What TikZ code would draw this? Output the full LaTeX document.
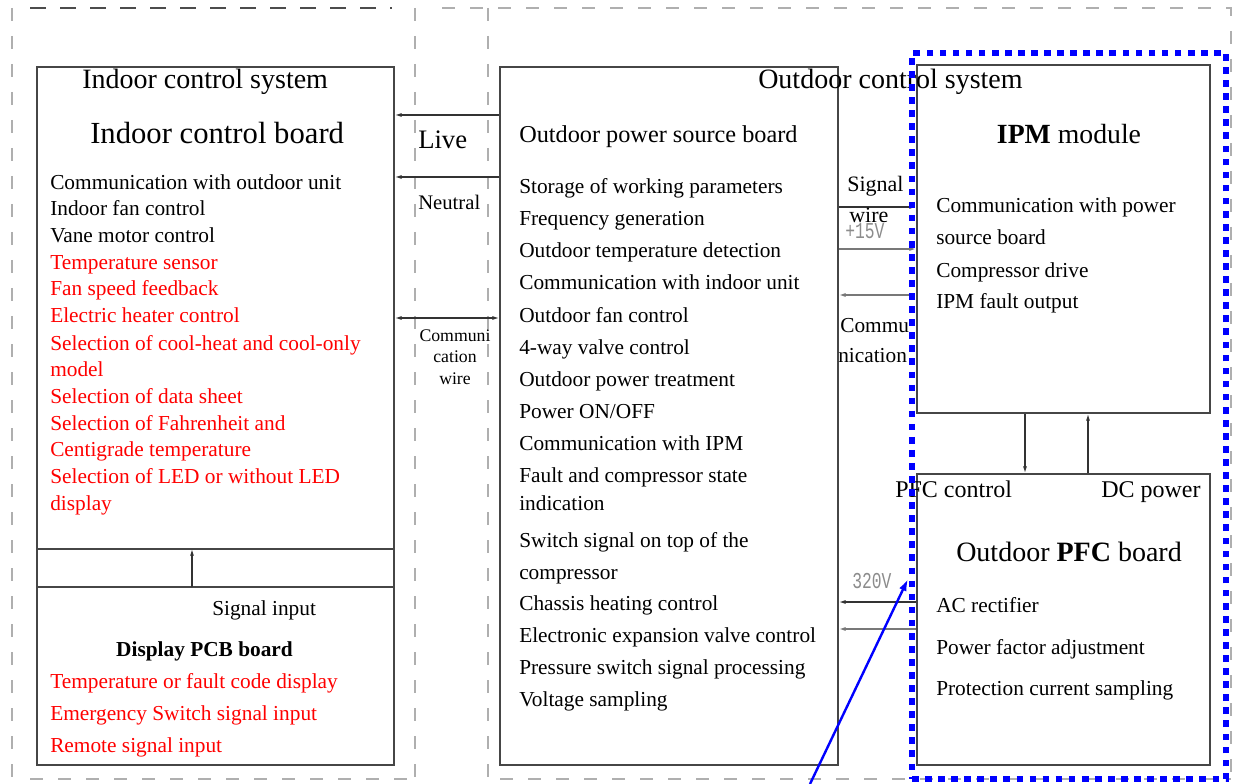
\documentclass[tikz,border=0pt]{standalone}
\usepackage{fontspec}
\usepackage{graphicx}
\setmainfont{Liberation Serif}
\newfontfamily\cadfont{Liberation Mono}
\usetikzlibrary{arrows.meta,fit}
\definecolor{tred}{RGB}{255,0,0}
\definecolor{tblue}{RGB}{0,0,255}
\definecolor{edge}{RGB}{70,70,70}
\definecolor{lgray}{RGB}{175,175,175}
\definecolor{cgray}{RGB}{120,120,120}
\begin{document}
\begin{tikzpicture}[x=0.75pt,y=-0.75pt,
  box/.style={draw=edge, line width=1.3pt, inner sep=0pt},
  outerdash/.style={draw=lgray, line width=1.2pt, dash pattern=on 10pt off 11pt},
  darkdash/.style={draw=black!70, line width=1.2pt, dash pattern=on 12pt off 10.5pt},
  conn/.style={draw=black!80, line width=0.9pt},
  gconn/.style={draw=cgray, line width=1.3pt},
  tip/.style={-{Latex[length=5pt,width=3pt]}},
  btip/.style={{Latex[length=5pt,width=3pt]}-{Latex[length=5pt,width=3pt]}},
  body/.style={font=\fontsize{16}{19}\selectfont, inner sep=0pt, anchor=base west},
  small/.style={font=\fontsize{13.3}{16}\selectfont, inner sep=0pt, anchor=base},
  title/.style={font=\fontsize{21}{25}\selectfont, inner sep=0pt, anchor=base west},
  cad/.style={font=\cadfont\fontsize{17}{20}\selectfont, text=lgray!80!black, inner sep=0pt, anchor=base west}
]
\useasboundingbox (0,0) rectangle (1235,784);

% outer dashed system frames
\draw[darkdash] (30,8) -- (392,8);
\draw[outerdash] (12,8) -- (12,784);
\draw[outerdash] (415,8) -- (415,784);
\draw[outerdash] (30,779) -- (410,779);
\draw[outerdash] (442,8) -- (1231,8) -- (1231,779);
\draw[outerdash] (488,8) -- (488,784);
\draw[outerdash] (500,779) -- (1231,779);

% boxes
\node[box, fit={(37,67) (394,765)}] (indoor) {};
\node[box, fit={(500,67) (838,765)}] (outdoor) {};
\node[box, fit={(917,65) (1210,413)}] (ipm) {};
\node[box, fit={(917,474) (1210,765)}] (pfc) {};

% display band inside indoor box
\coordinate (dA) at (0,549);
\coordinate (dB) at (0,587);
\draw[box] (indoor.west |- dA) -- (indoor.east |- dA);
\draw[box] (indoor.west |- dB) -- (indoor.east |- dB);
\coordinate (sigB) at (192,587);
\coordinate (sigT) at (192,549);
\draw[conn,tip] (sigB) -- (sigT);

% indoor <-> outdoor connectors
\coordinate (yLive) at (0,115);
\coordinate (yNeu) at (0,177);
\coordinate (yCom) at (0,318);
\draw[conn,tip] (outdoor.west |- yLive) -- (indoor.east |- yLive);
\draw[conn,tip] (outdoor.west |- yNeu) -- (indoor.east |- yNeu);
\draw[conn,btip] (indoor.east |- yCom) -- (outdoor.west |- yCom);

% outdoor board <-> IPM
\coordinate (ySig) at (0,207);
\coordinate (y15) at (0,249);
\coordinate (yIc) at (0,295);
\draw[conn,tip] (outdoor.east |- ySig) -- (ipm.west |- ySig);
\draw[gconn,tip] (outdoor.east |- y15) -- (ipm.west |- y15);
\draw[gconn,btip] (outdoor.east |- yIc) -- (ipm.west |- yIc);

% PFC -> outdoor board
\coordinate (y320) at (0,602);
\coordinate (yP2) at (0,629);
\draw[conn,tip] (pfc.west |- y320) -- (outdoor.east |- y320);
\draw[gconn,tip] (pfc.west |- yP2) -- (outdoor.east |- yP2);

% IPM <-> PFC
\coordinate (xDown) at (1025,0);
\coordinate (xUp) at (1088,0);
\draw[conn,tip] (ipm.south -| xDown) -- (pfc.north -| xDown);
\draw[conn,tip] (pfc.north -| xUp) -- (ipm.south -| xUp);

% titles
\node[title] (ics) at (82,89) {Indoor control system};
\node[title, font=\fontsize{23}{27}\selectfont] (icb) at (90,144) {Indoor control board};
\node[title] (ocs) at (758,89) {Outdoor control system};
\node[title, font=\fontsize{18.2}{22}\selectfont] (opsb) at (519,143) {Outdoor power source board};
\node[title, anchor=base, font=\fontsize{20.8}{25}\selectfont] (ipmt) at (1069,144) {\textbf{IPM} module};
\node[title, anchor=base] (pfct) at (1069,561) {Outdoor \textbf{PFC} board};

% wire labels
\node[title, font=\fontsize{20}{24}\selectfont] (live) at (418,149) {Live};
\node[title, font=\fontsize{15.5}{19}\selectfont] (neutral) at (418,210) {Neutral};
\node[small] (cw1) at (455,341) {Communi};
\node[small] (cw2) at (455,362) {cation};
\node[small] (cw3) at (455,384) {wire};
\node[body, font=\fontsize{16.5}{20}\selectfont] (sw1) at (847,192) {Signal};
\node[body, font=\fontsize{16.5}{20}\selectfont] (sw2) at (849,223) {wire};
\node[body] (oc1) at (840,333) {Commu};
\node[body] (oc2) at (838,363) {nication};
\node[cad] (v15) at (845,239) {\scalebox{0.72}[1]{+15V}};
\node[cad] (v320) at (852,588) {\scalebox{0.72}[1]{320V}};
\node[body, font=\fontsize{18}{22}\selectfont] (pfcc) at (895,497) {PFC control};
\node[body, font=\fontsize{18}{22}\selectfont] (dcp) at (1101,497) {DC power};

% indoor list
\foreach \y/\t/\c [count=\i] in {
183/Communication with outdoor unit/black,
209/Indoor fan control/black,
236/Vane motor control/black,
263/Temperature sensor/tred,
289/Fan speed feedback/tred,
316/Electric heater control/tred,
343/Selection of cool-heat and cool-only/tred,
369/model/tred,
396/Selection of data sheet/tred,
423/Selection of Fahrenheit and/tred,
449/Centigrade temperature/tred,
476/Selection of LED or without LED/tred,
503/display/tred}
  \node[body, text=\c] (in\i) at (50,\y+7) {\t};

% display PCB board
\node[body] (sigin) at (212,615) {Signal input};
\node[body, anchor=base] (dpcb) at (204.5,656) {\textbf{Display PCB board}};
\node[body, text=tred] (dp1) at (50,688) {Temperature or fault code display};
\node[body, text=tred] (dp2) at (50,720) {Emergency Switch signal input};
\node[body, text=tred] (dp3) at (50,752) {Remote signal input};

% outdoor list
\foreach \y/\t [count=\i] in {
187/Storage of working parameters,
219/Frequency generation,
251/Outdoor temperature detection,
283/Communication with indoor unit,
315/Outdoor fan control,
347/4-way valve control,
379/Outdoor power treatment,
411/{Power ON/OFF},
443/Communication with IPM,
475/Fault and compressor state,
503/indication,
540/Switch signal on top of the,
572/compressor,
603/Chassis heating control,
635/Electronic expansion valve control,
667/Pressure switch signal processing,
699/Voltage sampling}
  \node[body] (out\i) at (519,\y+7) {\t};

% IPM list
\node[body] (ip1) at (936,213) {Communication with power};
\node[body] (ip2) at (936,245) {source board};
\node[body] (ip3) at (936,277) {Compressor drive};
\node[body] (ip4) at (936,309) {IPM fault output};

% PFC list
\node[body] (pf1) at (936,612) {AC rectifier};
\node[body] (pf2) at (936,654) {Power factor adjustment};
\node[body] (pf3) at (936,695) {Protection current sampling};

% blue highlight frame and arrow
\node[draw=tblue, line width=3.8pt, dash pattern=on 5pt off 4.8pt, inner sep=0pt, fit={(912,53) (1226,779)}] (hl) {};
\coordinate (bstart) at (810,784);
\coordinate (btipc) at (908,579);
\draw[tblue, line width=1.8pt, -{Latex[length=9pt,width=6pt]}] (bstart) -- (btipc);
\end{tikzpicture}
\end{document}
